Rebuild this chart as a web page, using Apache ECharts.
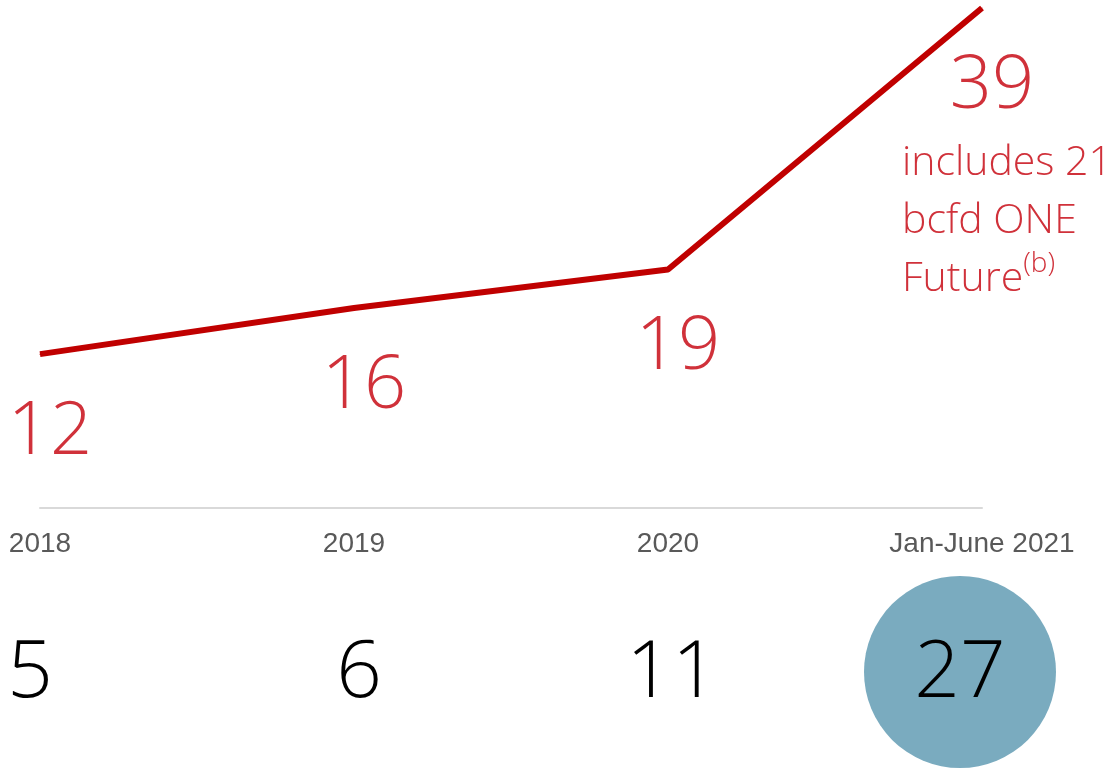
<!DOCTYPE html>
<html>
<head>
<meta charset="utf-8">
<script src="https://cdn.jsdelivr.net/npm/echarts@6/dist/echarts.min.js"></script>
<style>
html,body{margin:0;padding:0;background:#fff;}
#chart{width:1112px;height:769px;}
</style>
</head>
<body>
<div id="chart"></div>
<script>
// ---- data ----
const categories = ['2018', '2019', '2020', 'Jan-June 2021'];
const lineValues = [12, 15.6, 18.6, 39];
const lineLabels = ['12', '16', '19', '39'];
const bottomValues = [5, 6, 11, 27];
const highlightIndex = 3;
const noteLines = ['includes 21', 'bcfd ONE', 'Future'];
const noteSup = '(b)';

const RED_LINE = '#c00000';
const RED_TEXT = '#d0313a';
const LIGHT = '"Open Sans", "Noto Sans", sans-serif';

const chart = echarts.init(document.getElementById('chart'), null, {renderer: 'canvas'});

const option = {
  backgroundColor: '#ffffff',
  animation: false,
  grid: [
    {left: 40, right: 130, top: 8, bottom: 261, containLabel: false},
    {left: 40, right: 130, top: 572, bottom: 5, containLabel: false}
  ],
  xAxis: [
    {
      gridIndex: 0,
      type: 'category',
      data: categories,
      boundaryGap: false,
      axisLine: {show: true, lineStyle: {color: '#d9d9d9', width: 2}},
      axisTick: {show: false},
      axisLabel: {
        show: true,
        color: '#595959',
        fontFamily: '"Liberation Sans", Arial, sans-serif',
        fontSize: 28,
        margin: 22,
        interval: 0
      },
      splitLine: {show: false}
    },
    {
      gridIndex: 1,
      type: 'category',
      data: categories,
      boundaryGap: false,
      show: false
    }
  ],
  yAxis: [
    {gridIndex: 0, type: 'value', min: 0, max: 39, show: false, splitLine: {show: false}},
    {gridIndex: 1, type: 'value', min: -1, max: 1, show: false, splitLine: {show: false}}
  ],
  series: [
    {
      type: 'line',
      xAxisIndex: 0,
      yAxisIndex: 0,
      data: lineValues,
      symbol: 'circle',
      symbolSize: 1,
      itemStyle: {color: RED_LINE},
      lineStyle: {color: RED_LINE, width: 6},
      label: {
        show: true,
        position: 'bottom',
        distance: 41,
        offset: [10, 0],
        color: RED_TEXT,
        fontFamily: LIGHT,
        fontWeight: 300,
        fontSize: 74,
        formatter: p => lineLabels[p.dataIndex]
      },
      z: 3
    },
    {
      type: 'scatter',
      xAxisIndex: 1,
      yAxisIndex: 1,
      data: bottomValues.map((v, i) => ({
        value: [categories[i], 0],
        symbolSize: i === highlightIndex ? 192 : 0,
        symbolOffset: i === highlightIndex ? [-22, 4] : [0, 0],
        itemStyle: {color: i === highlightIndex ? '#7aabbf' : 'rgba(0,0,0,0)', opacity: 1},
        label: {offset: i === highlightIndex ? [0, 2] : [[-10, 6], [5, 6], [4, 6]][i]}
      })),
      itemStyle: {opacity: 1},
      label: {
        show: true,
        position: 'inside',
        color: '#000000',
        opacity: 1,
        fontFamily: LIGHT,
        fontWeight: 300,
        fontSize: 80,
        formatter: p => String(bottomValues[p.dataIndex])
      },
      emphasis: {disabled: true}
    }
  ],
  graphic: [
    {
      type: 'text',
      left: 902,
      top: 134,
      style: {
        text: noteLines[0] + '\n' + noteLines[1] + '\n' + noteLines[2] + '{sup|' + noteSup + '}',
        fill: RED_TEXT,
        font: '300 41px "Open Sans", sans-serif',
        lineHeight: 58,
        rich: {
          sup: {
            fill: RED_TEXT,
            fontFamily: 'Open Sans',
            fontWeight: 300,
            fontSize: 28,
            verticalAlign: 'top',
            lineHeight: 58,
            padding: [0, 0, 12, 0]
          }
        }
      }
    }
  ]
};

chart.setOption(option);
</script>
</body>
</html>
